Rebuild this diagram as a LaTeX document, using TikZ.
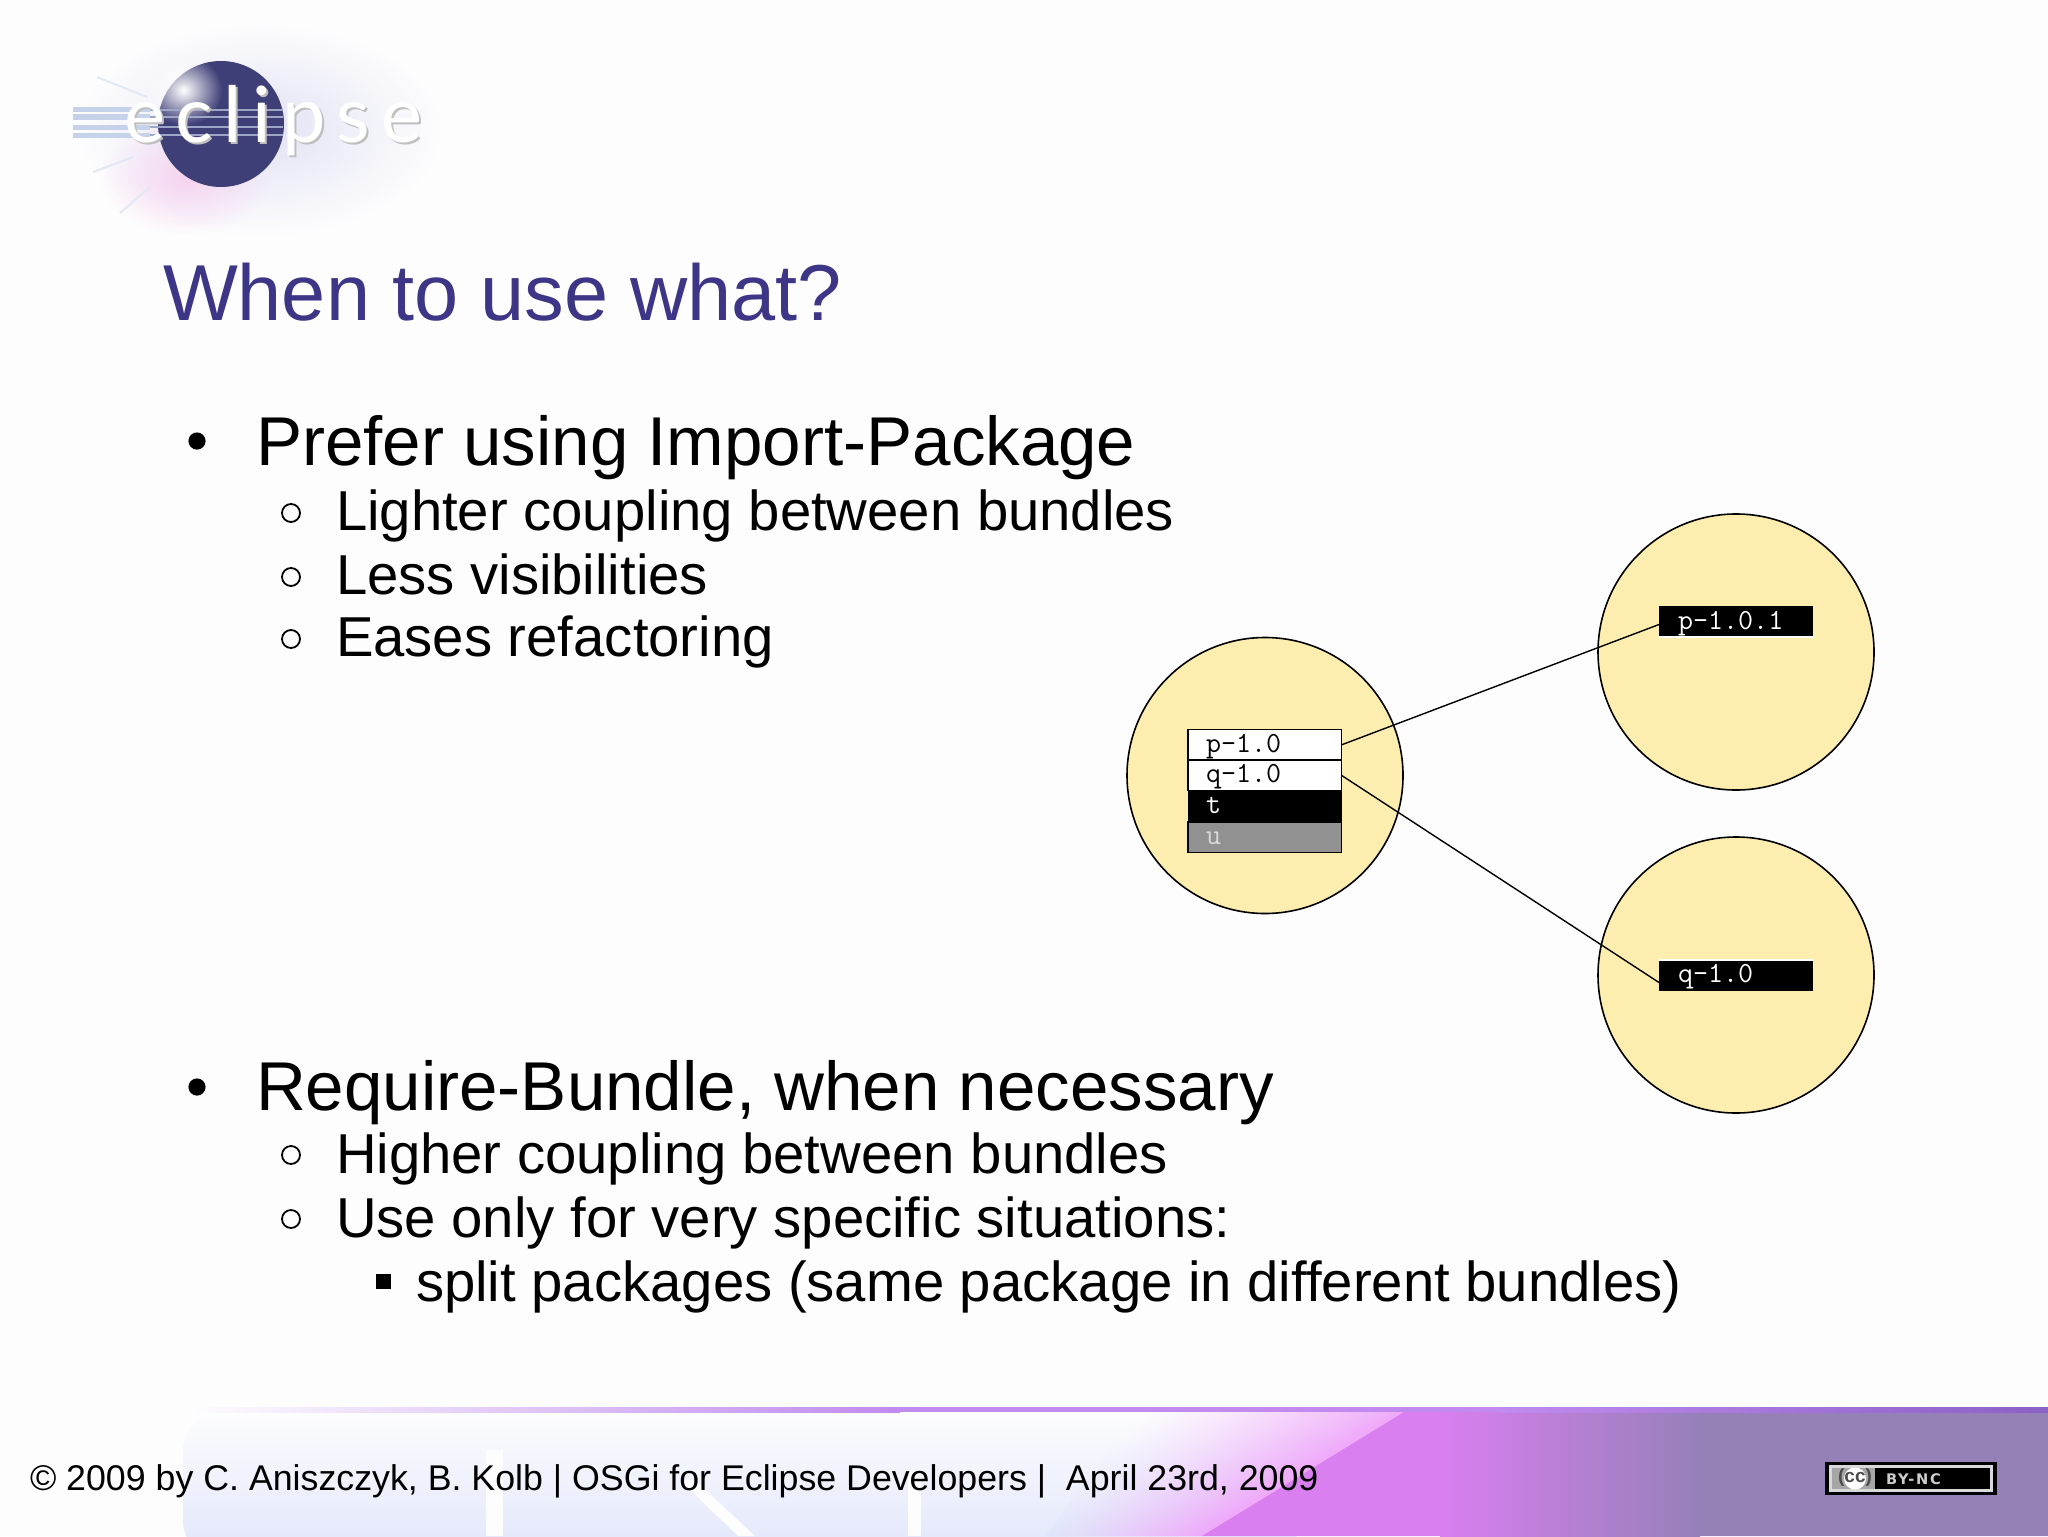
\documentclass[tikz,border=0pt]{standalone}
\usepackage{fontspec}
\setmainfont{Liberation Sans}
\newfontfamily\logofont[LetterSpace=14]{Lato}
\newfontfamily\ccfont[LetterSpace=12]{DejaVu Sans}
\usetikzlibrary{fadings,calc}
\tikzfading[name=softdisk,inner color=transparent!0,outer color=transparent!100]
\definecolor{bgc}{HTML}{FDFDFE}
\definecolor{titlec}{HTML}{3D3585}
\definecolor{bundlec}{HTML}{FDEEAF}
\definecolor{sphere}{HTML}{3F3F78}
\definecolor{pinkc}{HTML}{EFA8FA}
\definecolor{purpa}{HTML}{D97FF0}
\definecolor{purpb}{HTML}{9580B8}
\definecolor{linec}{HTML}{C08AEE}
\definecolor{lined}{HTML}{8A62C4}
\definecolor{paleb}{HTML}{E0E5FA}
\definecolor{halo}{HTML}{E2E2F4}
\definecolor{glow}{HTML}{F6D4F0}
\definecolor{rayc}{HTML}{C6D2EA}
\tikzset{
  every node/.style={inner sep=0pt,outer sep=0pt},
  txt/.style={anchor=base west,text=black},
  lvla/.style={txt,font=\fontsize{34.55}{40}\selectfont},
  lvlb/.style={txt,font=\fontsize{28.13}{32}\selectfont},
  foot/.style={txt,font=\fontsize{17.87}{22}\selectfont},
  bulleta/.style={circle,fill=black,minimum size=8.6pt},
  bulletb/.style={circle,draw=black,line width=0.9pt,minimum size=9pt},
  bulletc/.style={rectangle,fill=black,minimum size=7.5pt},
  bundle/.style={circle,draw=black,fill=bundlec,line width=0.8pt,minimum size=138pt},
  rowbase/.style={rectangle,minimum width=76.75pt,minimum height=15.35pt,line width=0.7pt,font=\ttfamily\fontsize{14.6}{16}\selectfont},
  mono/.style={txt,font=\ttfamily\fontsize{14.6}{16}\selectfont},
  conn/.style={draw=black,line width=0.7pt},
}
\begin{document}
\begin{tikzpicture}[x=0.5pt,y=-0.5pt]
\useasboundingbox (0,0) rectangle (2048,1536);
\fill[bgc] (0,0) rectangle (2048,1536);
% logo
\fill[halo,path fading=softdisk] (80,25) rectangle (440,235);
\fill[glow,path fading=softdisk] (100,120) rectangle (270,235);
\draw[rayc!50,line width=1pt] (97,77) -- (147,97) (93,172) -- (133,157) (120,213) -- (150,187);
\fill[sphere] (221,124) circle (63);
\fill[white,path fading=softdisk] (145,55) rectangle (222,125);
\foreach \yy in {110,117,127,135}{\draw[rayc,line width=2.5pt] (73,\yy) -- (150,\yy);\draw[rayc!70!sphere,line width=1.2pt] (150,\yy) -- (283,\yy);}
\node[anchor=base west,text=black!25,font=\logofont\fontsize{38.8}{40}\selectfont] (logoshadow) at (126,144) {eclipse};
\node[anchor=base west,text=white,font=\logofont\fontsize{38.8}{40}\selectfont] (logo) at (124,142) {eclipse};
% footer
\shade[top color=bgc,middle color=paleb!35!bgc,bottom color=paleb,rounded corners=20pt] (183,1412) -- (1300,1412) -- (1300,1560) -- (183,1560) -- cycle;
\fill[bgc] (486,1450) rectangle (503,1536);
\fill[bgc] (680,1480) -- (695,1480) -- (755,1536) -- (738,1536) -- cycle;
\fill[bgc] (908,1470) rectangle (921,1536);
\foreach \i in {0,...,49}{
  \pgfmathsetmacro{\ta}{\i/50}
  \pgfmathsetmacro{\tb}{(\i+1.3)/50}
  \pgfmathsetmacro{\p}{100*pow(\ta,1.3)}
  \shade[top color=pinkc!\p!bgc,bottom color=pinkc!\p!paleb] ({1136+268*\ta},1412) -- ({1136+268*\tb},1412) -- ({1045+157*\tb},1536) -- ({1045+157*\ta},1536) -- cycle;
}
\fill[purpa] (1404,1412) -- (2048,1412) -- (2048,1536) -- (1202,1536) -- cycle;
\shade[left color=purpa,right color=purpb] (1440,1412) rectangle (1700,1536);
\fill[purpb] (1700,1412) rectangle (2048,1536);
\shade[left color=bgc,right color=linec] (190,1407) rectangle (900,1412);
\fill[linec] (900,1407) rectangle (1500,1412);
\shade[left color=linec,right color=lined] (1500,1407) rectangle (2048,1412);
% cc badge
\node[rectangle,fill=black,minimum width=86pt,minimum height=16.5pt,anchor=north west] (ccbox) at (1825,1462) {};
\fill[black!15,draw=none] (1829,1465) rectangle (1993,1492);
\fill[black] (1875,1468) rectangle (1990,1489);
\fill[black!35] (1832,1468) rectangle (1875,1489);
\fill[white] (1855,1478.5) circle (11);
\node[font=\fontsize{9.5}{10}\bfseries\selectfont,text=black!70] (cctext) at (1855,1478) {(cc)};
\node[anchor=base west,font=\ccfont\bfseries\fontsize{7.3}{8}\selectfont,text=black!20] (ccname) at (1886,1484) {BY-NC};
% title and text
\node[txt,text=titlec,font=\fontsize{39.65}{44}\selectfont] (title) at (163,320) {When to use what?};
\node[bulleta] (b1) at (197,441) {};
\node[lvla] (t1) at (256,465) {Prefer using Import-Package};
\node[bulletb] (b2) at (291,513) {};
\node[lvlb] (t2) at (336,530) {Lighter coupling between bundles};
\node[bulletb] (b3) at (291,577) {};
\node[lvlb] (t3) at (336,594.5) {Less visibilities};
\node[bulletb] (b4) at (291,639) {};
\node[lvlb] (t4) at (336,656) {Eases refactoring};
\node[bulleta] (b5) at (197,1087) {};
\node[lvla] (t5) at (256,1110) {Require-Bundle, when necessary};
\node[bulletb] (b6) at (291,1155) {};
\node[lvlb] (t6) at (336,1173) {Higher coupling between bundles};
\node[bulletb] (b7) at (291,1219) {};
\node[lvlb] (t7) at (336,1237) {Use only for very specific situations:};
\node[bulletc] (b8) at (383,1281) {};
\node[lvlb] (t8) at (416,1301) {split packages (same package in different bundles)};
\node[foot] (ft) at (30,1490) {© 2009 by C. Aniszczyk, B. Kolb | OSGi for Eclipse Developers |\ \ April 23rd, 2009};
% bundles
\node[bundle] (c1) at (1265,775.5) {};
\node[bundle] (c2) at (1736,652) {};
\node[bundle] (c3) at (1736,975) {};
\node[rowbase,draw=black,fill=white,anchor=north west] (rp) at (1188,729.5) {};
\node[rowbase,draw=black,fill=white,anchor=north west] (rq) at (1188,760) {};
\node[rowbase,fill=black,anchor=north west] (rt) at (1188,790.7) {};
\node[rowbase,draw=black,fill=black!43,anchor=north west,minimum height=15.2pt] (ru) at (1188,822) {};
\node[mono] (lp) at (1206,752) {p-1.0};
\node[mono] (lq) at (1206,782.5) {q-1.0};
\node[mono,text=white] (lt) at (1206,813) {t};
\node[mono,text=black!15] (lu) at (1206,844) {u};
\node[rowbase,fill=black,anchor=north west,minimum width=77pt,minimum height=15.5pt] (bp) at (1659,606) {};
\node[rowbase,fill=black,anchor=north west,minimum width=77pt,minimum height=15.5pt] (bq) at (1659,960) {};
\draw[white,line width=0.6pt] (bp.south west) -- (bp.south east);
\draw[white,line width=0.6pt] (bq.north west) -- (bq.north east);
\node[mono,text=white] (lbp) at (1678,629) {p-1.0.1};
\node[mono,text=white] (lbq) at (1678,982) {q-1.0};
\draw[conn] (rp.east) -- ([yshift=-1.5pt]bp.west);
\draw[conn] (rq.east) -- ([yshift=-3.5pt]bq.west);
\end{tikzpicture}
\end{document}
